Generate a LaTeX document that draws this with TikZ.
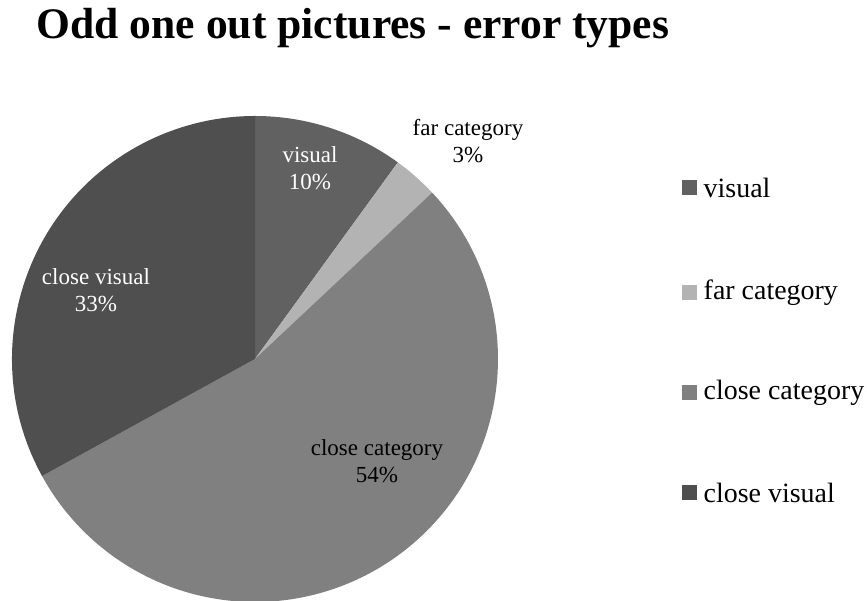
\documentclass[tikz,border=0pt]{standalone}
\usepackage{fontspec}
\setmainfont{Liberation Serif}
\usepackage{tikz}
\usetikzlibrary{positioning}
\definecolor{visualgray}{RGB}{97,97,97}
\definecolor{fargray}{RGB}{179,179,179}
\definecolor{closecatgray}{RGB}{128,128,128}
\definecolor{closevisgray}{RGB}{79,79,79}

\tikzset{
  slicelabel/.style={align=center, inner sep=0pt, font=\fontsize{13.1}{15.4}\selectfont},
  legendbox/.style={minimum size=15*0.02cm, inner sep=0pt},
  legendtext/.style={anchor=west, inner sep=0pt, font=\fontsize{15.9}{18}\selectfont}
}

\begin{document}
\begin{tikzpicture}[x=0.02cm, y=0.02cm]
  \useasboundingbox (0,0) rectangle (867,601);
  \coordinate (centre) at (255,242);

  % slices, clockwise from the top
  \fill[visualgray] (centre) -- ++(90:243) arc[start angle=90, end angle=54, radius=243] -- cycle;
  \fill[fargray] (centre) -- ++(54:243) arc[start angle=54, end angle=43.2, radius=243] -- cycle;
  \fill[closecatgray] (centre) -- ++(43.2:243) arc[start angle=43.2, end angle=-151.2, radius=243] -- cycle;
  \fill[closevisgray] (centre) -- ++(208.8:243) arc[start angle=208.8, end angle=90, radius=243] -- cycle;

  \node[slicelabel, text=white] (lblvisual) at (310,432.5) {visual\\10\%};
  \node[slicelabel] (lblfar) at (468,459.5) {far category\\3\%};
  \node[slicelabel] (lblclosecat) at (377,139.5) {close category\\54\%};
  \node[slicelabel, text=white] (lblclosevis) at (96,311) {close visual\\33\%};

  \node[anchor=base, font=\fontsize{24.8}{28}\selectfont\bfseries] (title) at (353,562) {Odd one out pictures - error types};

  % legend
  \node[legendbox, fill=visualgray] (keyvisual) at (689.5,413) {};
  \node[legendbox, fill=fargray] (keyfar) at (689.5,308) {};
  \node[legendbox, fill=closecatgray] (keyclosecat) at (689.5,208) {};
  \node[legendbox, fill=closevisgray] (keyclosevis) at (689.5,108) {};
  \node[legendtext, right=6*0.02cm of keyvisual] (txtvisual) {visual};
  \node[legendtext, right=6*0.02cm of keyfar] (txtfar) {far category};
  \node[legendtext, right=6*0.02cm of keyclosecat] (txtclosecat) {close category};
  \node[legendtext, right=6*0.02cm of keyclosevis] (txtclosevis) {close visual};
\end{tikzpicture}
\end{document}
